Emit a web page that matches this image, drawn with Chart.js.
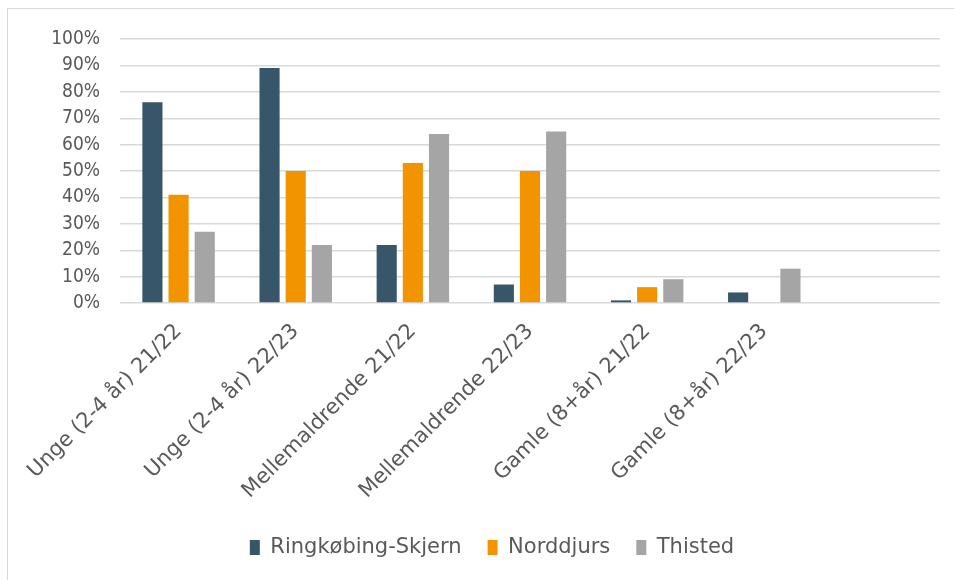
<!DOCTYPE html>
<html>
<head>
<meta charset="utf-8">
<script src="https://cdn.jsdelivr.net/npm/chart.js@4"></script>
<style>
  html, body { margin: 0; padding: 0; background: #fff; }
  #wrap { position: absolute; left: 7px; top: 8px; width: 946px; height: 572px; border-left: 1.5px solid #d9d9d9; border-top: 1.5px solid #d9d9d9; }
  canvas { position: absolute; left: 0; top: 0; }
</style>
</head>
<body>
<div id="wrap"></div>
<canvas id="chart" width="956" height="580"></canvas>
<script>
Chart.defaults.font.family = '"DejaVu Sans", sans-serif'
Chart.defaults.color = '#595959'

const categories = ['Unge (2-4 år) 21/22', 'Unge (2-4 år) 22/23', 'Mellemaldrende 21/22', 'Mellemaldrende 22/23', 'Gamle (8+år) 21/22', 'Gamle (8+år) 22/23', '']
const ringkobing = [76, 89, 22, 7, 1, 4, null]
const norddjurs = [41, 50, 53, 50, 6, 0, null]
const thisted = [27, 22, 64, 65, 9, 13, null]
const yTicks = [0, 10, 20, 30, 40, 50, 60, 70, 80, 90, 100]

const seriesNames = ['Ringkøbing-Skjern', 'Norddjurs', 'Thisted']
const seriesColors = ['#38566a', '#f29400', '#a5a5a5']

const makeSet = (i, values) => ({
    label: seriesNames[i],
    data: values,
    backgroundColor: seriesColors[i],
    borderWidth: 0,
    barPercentage: 0.77,
    categoryPercentage: 0.67
})

const data = {
    labels: categories,
    datasets: [makeSet(0, ringkobing), makeSet(1, norddjurs), makeSet(2, thisted)]
}

const options = {
    responsive: false,
    animation: false,
    layout: { padding: { top: 39, right: 16, left: 44, bottom: 12 } },
    plugins: {
        legend: {
            position: 'bottom',
            labels: { boxWidth: 10, boxHeight: 15, padding: 26, font: { size: 21 }, color: '#595959' }
        },
        tooltip: { enabled: false }
    },
    scales: {
        x: {
            grid: { display: false },
            border: { display: false },
            ticks: { minRotation: 45, maxRotation: 45, font: { size: 21 }, padding: 8, autoSkip: false },
            afterFit: scale => { scale.height = 208 }
        },
        y: {
            min: 0,
            max: 100,
            afterBuildTicks: scale => { scale.ticks = yTicks.map(v => ({ value: v })) },
            grid: { color: '#d9d9d9', lineWidth: 1.4, drawTicks: false },
            border: { display: false },
            ticks: { font: { size: 19, family: '"DejaVu Sans Condensed", sans-serif' }, padding: 20, callback: v => v + '%' },
            afterFit: scale => { scale.width = 76 }
        }
    }
}

new Chart('chart', { type: 'bar', data, options })
</script>
</body>
</html>
